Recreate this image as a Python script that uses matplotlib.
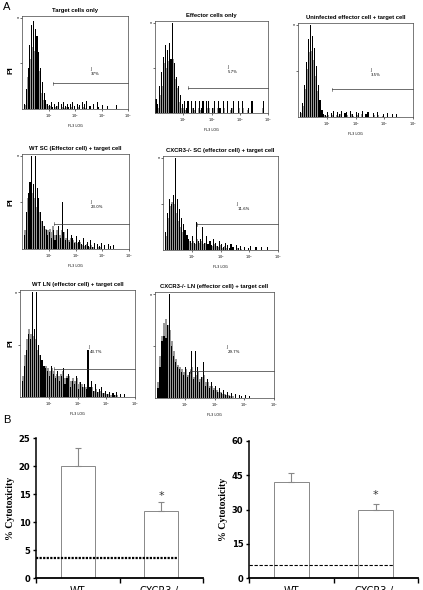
import numpy as np
import matplotlib
matplotlib.use("Agg")
import matplotlib.pyplot as plt

W, H = 423, 590

# ---- panel A: flow histograms (counts per channel, 15 channels per decade, 10^0..10^4)
titles = ["Target cells only", "Effector cells only", "Uninfected effector cell + target cell",
          "WT SC (Effector cell) + target cell", "CXCR3-/- SC (effector cell) + target cell",
          "WT LN (effector cell) + target cell", "CXCR3-/- LN (effector cell) + target cell"]
gate_pct = ["37%", "5.7%", "3.5%", "23.0%", "11.6%", "43.7%", "29.7%"]

black1 = [0, 6, 22, 45, 70, 92, 97, 88, 80, 62, 45, 30, 18, 10, 6,
          4, 8, 2, 6, 3, 8, 0, 5, 8, 3, 6, 2, 5, 8, 3,
          0, 6, 4, 0, 8, 5, 9, 0, 3, 0, 5, 0, 8, 2, 0,
          4, 0, 0, 3, 0, 0, 0, 0, 4, 0, 0, 0, 0, 0, 0]
gray1 = [0, 4, 18, 35, 55, 68, 72, 64, 55, 42, 30, 18, 10, 5, 3,
         2, 3, 0, 2, 1, 3, 0, 2, 3, 1, 2, 0, 1, 2, 0,
         0, 2, 1, 0, 2, 1, 2, 0, 0, 0, 1, 0, 0, 0, 0,
         0, 0, 0, 0, 0, 0, 0, 0, 0, 0, 0, 0, 0, 0, 0]
black2 = [15, 10, 30, 45, 62, 75, 70, 78, 60, 100, 55, 40, 30, 20, 10,
          13, 5, 13, 0, 13, 6, 13, 0, 13, 6, 13, 0, 13, 13, 0,
          6, 13, 0, 13, 6, 0, 13, 0, 13, 0, 6, 13, 0, 0, 13,
          0, 13, 0, 0, 6, 0, 13, 0, 0, 0, 0, 0, 13, 0, 0]
gray2 = [8, 6, 20, 30, 45, 55, 50, 58, 45, 60, 38, 28, 20, 12, 6,
         5, 3, 6, 0, 5, 3, 6, 0, 5, 3, 5, 0, 5, 6, 0,
         3, 5, 0, 5, 3, 0, 5, 0, 5, 0, 3, 5, 0, 0, 5,
         0, 5, 0, 0, 3, 0, 5, 0, 0, 0, 0, 0, 5, 0, 0]
black3 = [0, 5, 15, 35, 60, 85, 100, 88, 75, 55, 35, 18, 8, 3, 2,
          5, 0, 4, 6, 0, 5, 3, 6, 0, 4, 5, 0, 6, 3, 0,
          5, 4, 0, 6, 0, 3, 5, 0, 0, 4, 0, 5, 0, 0, 3,
          0, 4, 0, 0, 3, 0, 3, 0, 0, 0, 0, 0, 0, 0, 0]
gray3 = [0, 4, 12, 30, 52, 70, 78, 72, 62, 45, 28, 12, 5, 2, 1,
         2, 0, 2, 3, 0, 2, 1, 3, 0, 2, 2, 0, 3, 1, 0,
         2, 2, 0, 3, 0, 1, 2, 0, 0, 2, 0, 2, 0, 0, 1,
         0, 0, 0, 0, 0, 0, 0, 0, 0, 0, 0, 0, 0, 0, 0]
black4 = [0, 15, 40, 60, 72, 100, 70, 100, 65, 55, 40, 30, 25, 20, 15,
          18, 12, 20, 10, 15, 25, 12, 50, 18, 10, 22, 8, 15, 12, 6,
          14, 8, 10, 5, 12, 4, 8, 3, 10, 2, 6, 0, 5, 3, 6,
          0, 4, 0, 5, 3, 0, 4, 0, 0, 0, 0, 0, 0, 0, 0]
gray4 = [0, 20, 35, 55, 65, 60, 68, 55, 45, 40, 30, 28, 25, 22, 20,
         22, 18, 25, 15, 20, 22, 15, 20, 18, 12, 18, 10, 12, 10, 8,
         10, 6, 8, 4, 6, 3, 5, 2, 4, 0, 2, 0, 2, 0, 2,
         0, 0, 0, 0, 0, 0, 0, 0, 0, 0, 0, 0, 0, 0, 0]
black5 = [0, 20, 40, 55, 50, 60, 100, 55, 45, 35, 28, 22, 16, 12, 10,
          15, 8, 30, 10, 12, 25, 8, 15, 6, 10, 5, 12, 8, 4, 10,
          6, 3, 8, 5, 2, 6, 3, 0, 5, 2, 4, 0, 3, 0, 2,
          4, 0, 0, 3, 0, 0, 3, 0, 0, 3, 0, 0, 0, 0, 0]
gray5 = [0, 15, 35, 48, 52, 50, 48, 40, 32, 25, 20, 15, 12, 10, 8,
         10, 6, 12, 8, 8, 10, 6, 8, 5, 6, 4, 6, 4, 3, 5,
         3, 2, 4, 2, 0, 2, 1, 0, 2, 0, 1, 0, 0, 0, 0,
         0, 0, 0, 0, 0, 0, 0, 0, 0, 0, 0, 0, 0, 0, 0]
black6 = [0, 15, 30, 45, 60, 55, 100, 65, 100, 50, 40, 35, 30, 28, 25,
          20, 30, 22, 18, 25, 15, 20, 28, 12, 18, 22, 10, 15, 12, 20,
          8, 14, 10, 12, 8, 45, 10, 15, 6, 12, 5, 8, 10, 4, 6,
          3, 5, 0, 4, 2, 5, 0, 3, 0, 3, 0, 0, 0, 0, 0]
gray6 = [0, 20, 40, 55, 65, 60, 62, 58, 55, 45, 40, 35, 30, 30, 28,
         25, 28, 25, 20, 22, 20, 22, 25, 18, 20, 20, 15, 18, 15, 18,
         12, 14, 12, 10, 10, 8, 8, 10, 6, 8, 5, 6, 6, 4, 4,
         3, 3, 2, 2, 2, 2, 0, 0, 0, 0, 0, 0, 0, 0, 0]
black7 = [0, 10, 30, 55, 60, 58, 70, 100, 50, 40, 35, 30, 28, 25, 22,
          30, 20, 25, 45, 18, 45, 30, 15, 20, 35, 12, 18, 10, 15, 8,
          12, 6, 10, 5, 8, 3, 6, 2, 5, 0, 4, 0, 3, 2, 0,
          3, 0, 2, 0, 0, 0, 0, 0, 0, 0, 0, 0, 0, 0, 0]
gray7 = [0, 15, 40, 60, 72, 76, 70, 65, 55, 45, 38, 32, 30, 28, 25,
         28, 22, 25, 30, 20, 22, 25, 18, 20, 22, 15, 15, 12, 12, 10,
         8, 8, 6, 6, 4, 4, 3, 3, 2, 2, 0, 0, 0, 0, 0,
         0, 0, 0, 0, 0, 0, 0, 0, 0, 0, 0, 0, 0, 0, 0]

blacks = [black1, black2, black3, black4, black5, black6, black7]
grays = [gray1, gray2, gray3, gray4, gray5, gray6, gray7]

# ---- panel B: % cytotoxicity
groups = ["WT", "CXCR3-/-"]
sc_mean = [20.0, 12.0]
sc_err = [3.3, 1.5]
sc_baseline = 3.6
ln_mean = [42.0, 30.0]
ln_err = [4.0, 2.5]
ln_baseline = 5.5


def rect(l, t, r, b):
    return [l / W, 1 - b / H, (r - l) / W, (b - t) / H]


fig = plt.figure(figsize=(W / 100, H / 100), dpi=100)
fig.patch.set_facecolor("white")

# pixel boxes of the 7 histograms, gate height, label pos
boxes = [(22, 16, 128, 109), (155, 21, 268, 113), (298, 23, 413, 117),
         (22, 154, 129, 249), (163, 156, 278, 250),
         (20, 290, 135, 397), (155, 292, 274, 398)]
gate_y = [28, 28, 30, 27, 28, 27, 26]
label_pos = [(2.57, 42), (2.55, 49), (2.5, 49), (2.54, 48), (2.54, 48), (2.37, 46), (2.4, 47)]

nb = 60
edges = 10 ** (np.arange(nb + 1) / 15.0)

for i in range(7):
    l, t, r, b = boxes[i]
    ax = fig.add_axes(rect(l, t, r, b))
    ax.set_xscale("log")
    left = edges[:-1]
    widths = edges[1:] - edges[:-1]
    ax.bar(left, grays[i], width=widths, align="edge", color="#9a9a9a", linewidth=0)
    ax.bar(left * 10 ** (0.2 / 15), blacks[i], width=widths * 0.6, align="edge",
           color="black", linewidth=0)
    ax.set_xlim(1, 1e4)
    ax.set_ylim(0, 102)
    for s in ax.spines.values():
        s.set_linewidth(0.5)
        s.set_color("#444444")
    ax.set_xticks([10, 100, 1000, 10000])
    ax.set_xticklabels(["$10^1$", "$10^2$", "$10^3$", "$10^4$"], fontsize=2.5)
    ax.tick_params(axis="x", which="major", length=1.5, width=0.4, pad=1)
    ax.tick_params(axis="x", which="minor", length=0.8, width=0.3)
    ax.set_yticks([50, 100])
    ax.set_yticklabels(["", "n"], fontsize=2.5)
    ax.tick_params(axis="y", length=1.5, width=0.4, pad=1)
    ax.set_xlabel("FL3 LOG", fontsize=2.5, labelpad=3)
    ax.set_title(titles[i], fontsize=4.2, fontweight="bold", family="Liberation Sans", pad=3)
    g0 = 10 ** 1.18
    ax.plot([g0, 1e4], [gate_y[i], gate_y[i]], color="#333333", lw=0.5, clip_on=False)
    ax.plot([g0, g0], [gate_y[i] - 1.5, gate_y[i] + 1.5], color="#333333", lw=0.4)
    lx, ly = label_pos[i]
    ax.text(10 ** lx, ly, "J", fontsize=2.8, ha="left", va="bottom")
    ax.text(10 ** lx * 1.1, ly - 1, gate_pct[i], fontsize=2.8, ha="left", va="top")

fig.text(3 / W, 1 - 7 / H, "A", fontsize=8, va="center", family="Liberation Sans")
for y in [70, 202, 343]:
    fig.text(11 / W, 1 - y / H, "PI", fontsize=6, fontweight="bold", rotation=90,
             ha="center", va="center", family="Liberation Sans")
fig.text(3 / W, 1 - 420 / H, "B", fontsize=8, va="center", family="Liberation Sans")


def bar_chart(box, means, errs, baseline, ymax, yticks, star_y, line_style, line_w):
    ax = fig.add_axes(rect(*box))
    x = np.array([0.5, 1.5])
    ax.bar(x, means, width=0.41, color="white", edgecolor="#888888", linewidth=0.7, zorder=2)
    ax.errorbar(x, means, yerr=[[0, 0], errs], fmt="none", ecolor="#888888",
                elinewidth=0.8, capsize=2.5, capthick=0.8, zorder=3)
    ax.plot([0, 1.70], [baseline, baseline], color="black", linestyle=line_style,
            lw=line_w, zorder=4)
    ax.text(x[1], star_y, "*", ha="center", va="center", fontsize=8, color="#333333")
    ax.set_xlim(0, 2)
    ax.set_ylim(0, ymax)
    ax.spines["top"].set_visible(False)
    ax.spines["right"].set_visible(False)
    ax.spines["left"].set_linewidth(1.1)
    ax.spines["bottom"].set_linewidth(1.3)
    ax.set_yticks(yticks)
    ax.set_yticklabels([str(v) for v in yticks], fontsize=6, fontweight="bold",
                       family="Liberation Sans Narrow")
    ax.tick_params(axis="y", length=2.5, width=1, pad=1.5)
    ax.set_xticks([0, 1, 2])
    ax.set_xticklabels([])
    ax.tick_params(axis="x", which="major", length=3.5, width=1)
    ax.set_xticks(x, minor=True)
    ax.set_xticklabels(groups, minor=True, fontsize=7, family="Liberation Sans Narrow")
    ax.tick_params(axis="x", which="minor", length=0, pad=5.5)
    ax.set_ylabel("% Cytotoxicity", fontsize=7, fontweight="bold",
                  family="Liberation Serif", labelpad=3)
    return ax


bar_chart((36, 438, 203, 578), sc_mean, sc_err, sc_baseline, 25, [0, 5, 10, 15, 20, 25],
          14.6, (0, (1, 0.6)), 1.6)
bar_chart((249, 441, 418, 578), ln_mean, ln_err, ln_baseline, 60, [0, 15, 30, 45, 60],
          36.5, (0, (3, 1.5)), 0.8)

fig.savefig("out.png", dpi=100)
